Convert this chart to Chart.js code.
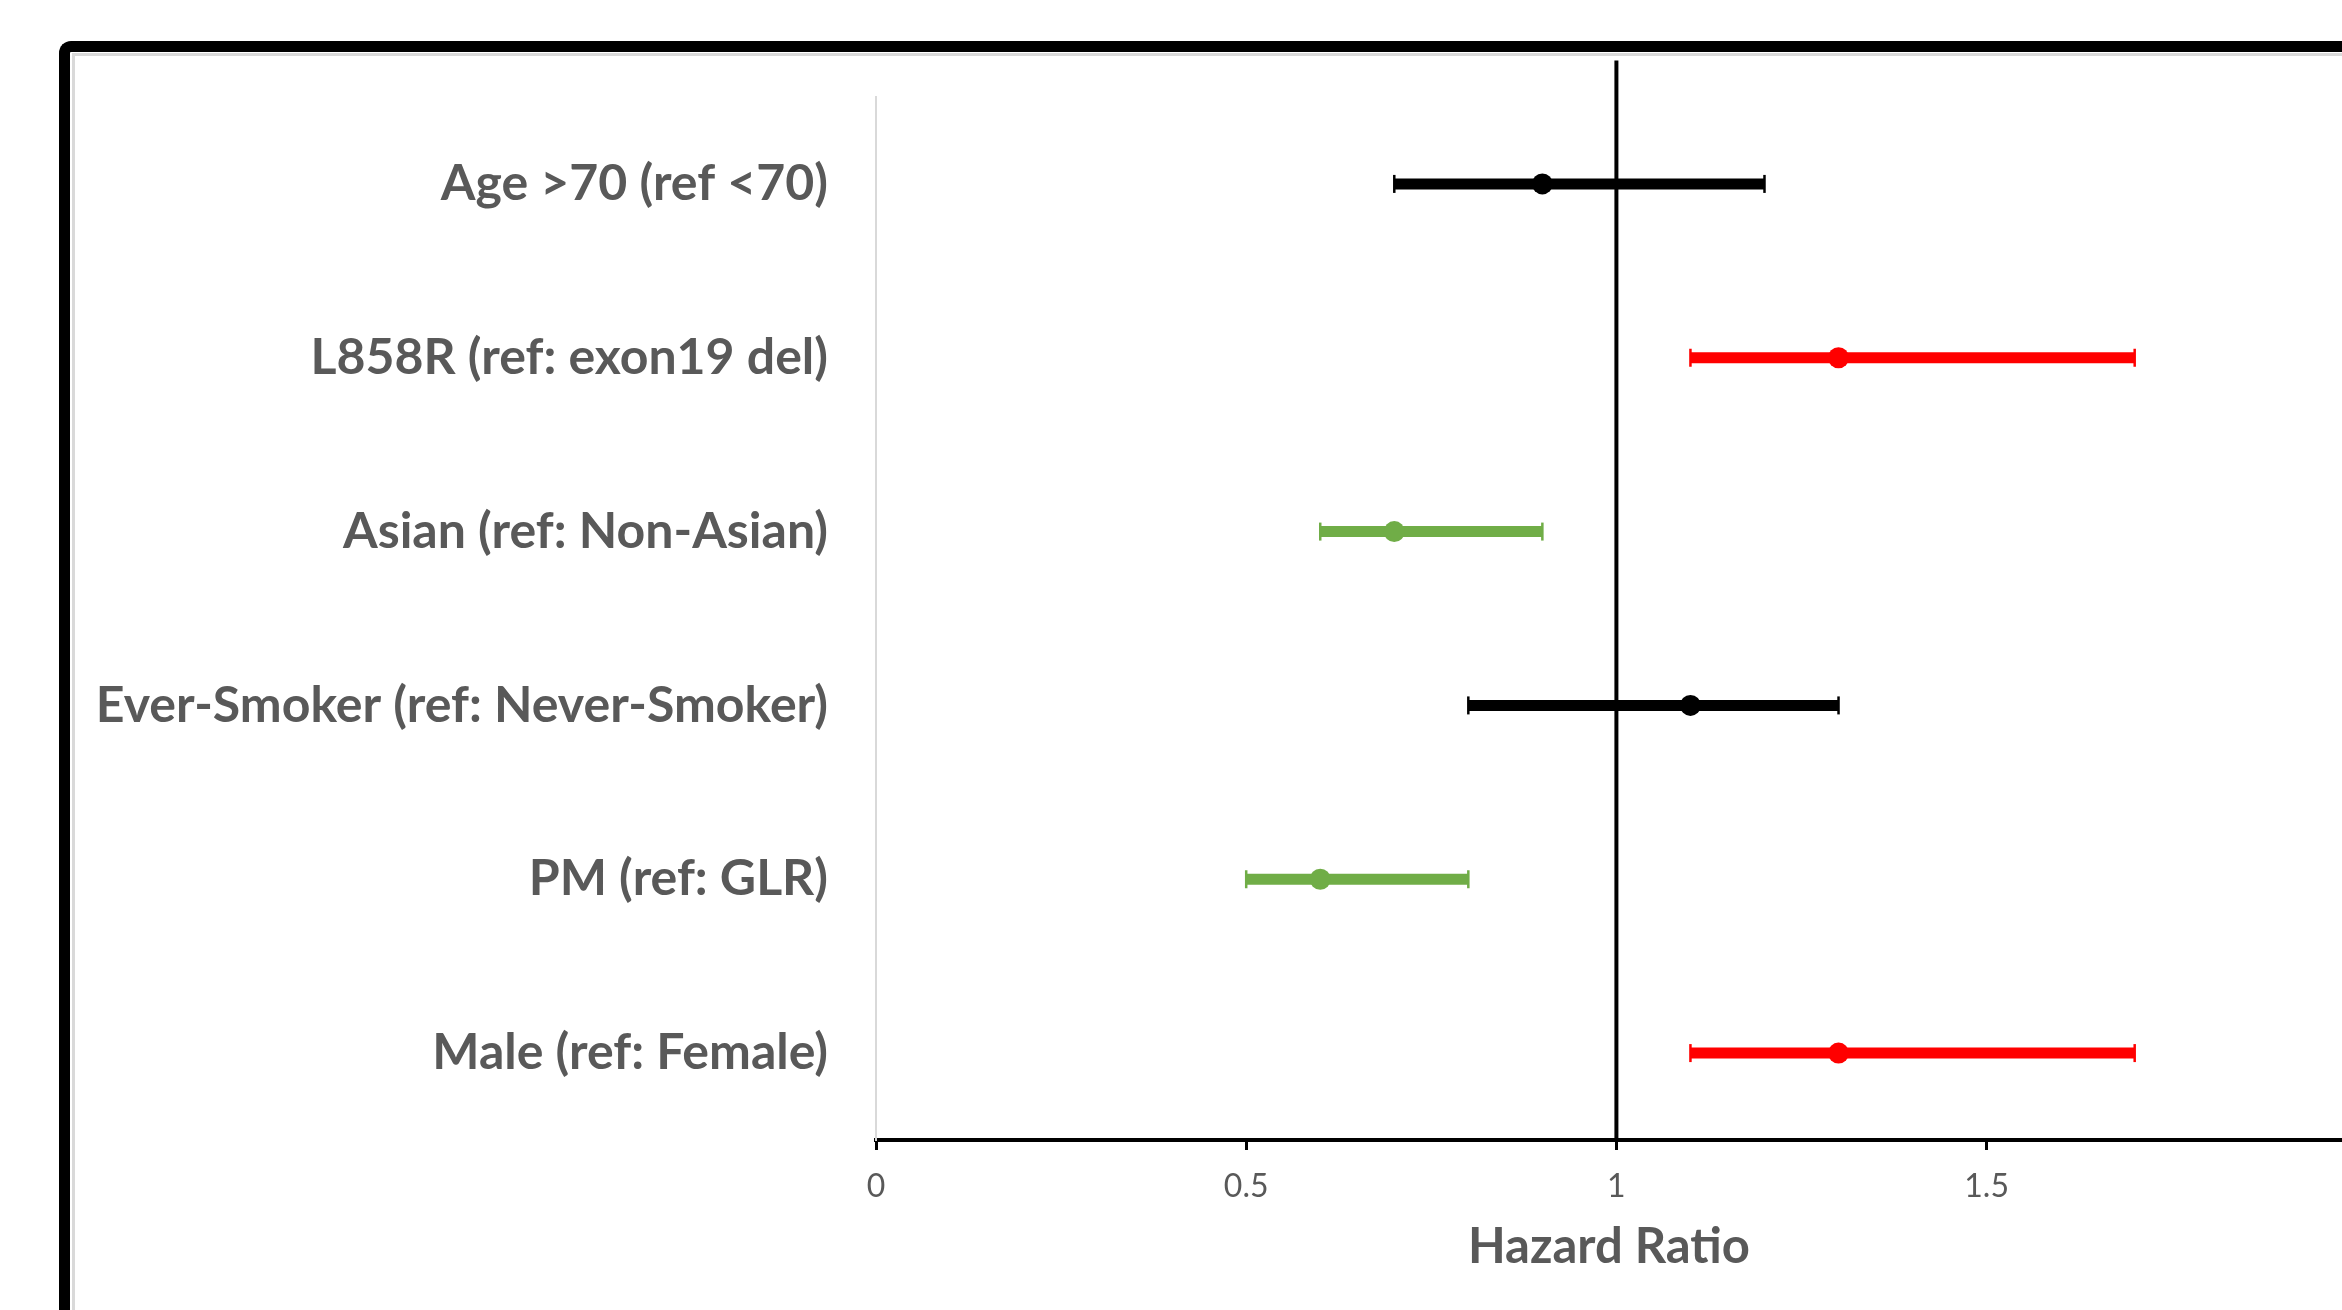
<!DOCTYPE html>
<html>
<head>
<meta charset="utf-8">
<script src="https://cdn.jsdelivr.net/npm/chart.js@4.4.1/dist/chart.umd.min.js"></script>
<style>
  html, body { margin: 0; padding: 0; background: #ffffff; overflow: hidden; width: 2342px; height: 1310px; }
  #frameOuter { position: absolute; left: 59px; top: 41px; width: 2283px; height: 1269px; box-sizing: border-box;
    border-left: 11px solid #000; border-top: 11px solid #000; border-top-left-radius: 12px; }
  #frameInner { position: absolute; left: 72px; top: 53px; width: 2270px; height: 1257px; box-sizing: border-box;
    border-left: 3px solid #d9d9d9; border-top: 3px solid #d9d9d9; }
  #c { position: absolute; left: 0; top: 0; z-index: 2; }
</style>
</head>
<body>
<div id="frameOuter"></div>
<div id="frameInner"></div>
<canvas id="c" width="2342" height="1310"></canvas>
<script>
// ---- data (top to bottom as in the picture) ----
const categories = [
  "Age >70 (ref <70)",
  "L858R (ref: exon19 del)",
  "Asian (ref: Non-Asian)",
  "Ever-Smoker (ref: Never-Smoker)",
  "PM (ref: GLR)",
  "Male (ref: Female)"
];
const hazardRatio = [0.9, 1.3, 0.7, 1.1, 0.6, 1.3];
const lowerCI     = [0.7, 1.1, 0.6, 0.8, 0.5, 1.1];
const upperCI     = [1.2, 1.7, 0.9, 1.3, 0.8, 1.7];
const barColors   = ["#000000", "#ff0000", "#70ad47", "#000000", "#70ad47", "#ff0000"];
const xTickValues = [0, 0.5, 1, 1.5];
const referenceX  = 1;
const refLineY    = [0.5, 6.71];

const n = categories.length;
const yPos = categories.map((_, i) => n - i);   // 6 .. 1
const textColor = "#595959";

const datasets = [];
// reference line at HR = 1
datasets.push({
  type: "line",
  data: refLineY.map(y => ({ x: referenceX, y: y })),
  borderColor: "#000000",
  borderWidth: 4,
  pointRadius: 0,
  clip: false,
  order: 10
});
// confidence-interval bars with caps
categories.forEach((c, i) => {
  datasets.push({
    type: "line",
    label: c,
    data: [{ x: lowerCI[i], y: yPos[i] }, { x: upperCI[i], y: yPos[i] }],
    borderColor: barColors[i],
    borderWidth: 11,
    borderCapStyle: "butt",
    pointStyle: "line",
    pointRotation: 90,
    pointRadius: 9,
    pointBorderWidth: 2.5,
    pointBorderColor: barColors[i],
    pointBackgroundColor: barColors[i],
    order: 2
  });
});
// point estimates
datasets.push({
  type: "scatter",
  data: hazardRatio.map((v, i) => ({ x: v, y: yPos[i] })),
  backgroundColor: barColors,
  borderColor: barColors,
  borderWidth: 0,
  pointRadius: 10.5,
  showLine: false,
  order: 1
});

new Chart(document.getElementById("c"), {
  type: "scatter",
  data: { datasets },
  options: {
    responsive: false,
    animation: false,
    layout: { autoPadding: false, padding: { top: 97, right: 0, bottom: 0, left: 0 } },
    plugins: { legend: { display: false }, tooltip: { enabled: false } },
    scales: {
      x: {
        type: "linear",
        min: 0,
        max: 1.98,
        afterBuildTicks: s => { s.ticks = xTickValues.map(v => ({ value: v })); },
        afterFit: s => { s.height = 170; s.paddingRight = 0; s.paddingLeft = 0; },
        grid: { drawOnChartArea: false, drawTicks: true, tickLength: 10, color: "#000000", lineWidth: 3 },
        border: { display: true, color: "#000000", width: 4 },
        ticks: {
          font: { family: "Lato", size: 32 },
          color: textColor,
          padding: 17,
          callback: v => String(v)
        },
        title: {
          display: true,
          text: "Hazard Ratio",
          color: textColor,
          font: { family: "Lato", size: 49, weight: "bold" },
          padding: { top: 0, bottom: 33 }
        }
      },
      y: {
        type: "linear",
        min: 0.5,
        max: 6.5,
        afterBuildTicks: s => { s.ticks = yPos.map(v => ({ value: v })); },
        afterFit: s => { s.width = 876; s.paddingTop = 0; s.paddingBottom = 0; },
        grid: { display: true, drawOnChartArea: false, drawTicks: false },
        border: { display: true, color: "#d9d9d9", width: 2 },
        ticks: {
          font: { family: "Lato", size: 50, weight: "bold" },
          color: textColor,
          padding: 48,
          callback: v => { const i = yPos.indexOf(v); return i >= 0 ? categories[i] : ""; }
        }
      }
    }
  }
});
</script>
</body>
</html>
